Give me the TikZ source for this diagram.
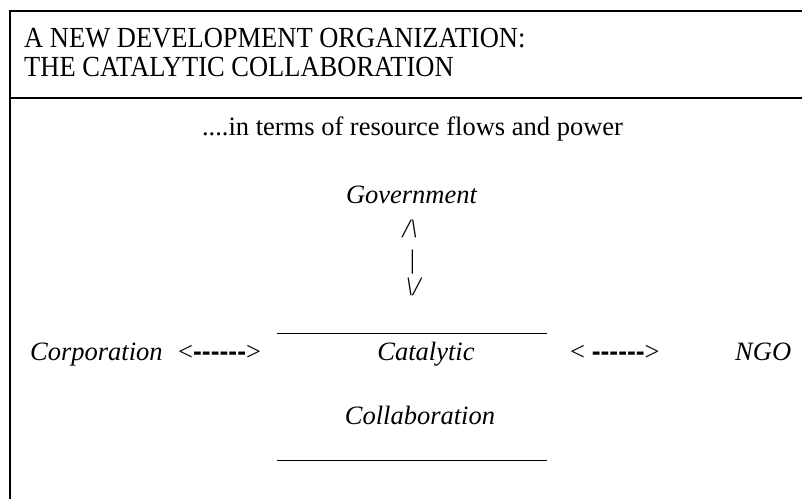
\documentclass[tikz,border=0pt]{standalone}
\usepackage{fontspec}
\setmainfont{Liberation Serif}
\newfontfamily\dashfont{Liberation Sans}
\begin{document}
\begin{tikzpicture}[x=1pt,y=-1pt,
  txt/.style={inner sep=0pt, anchor=base, font=\fontsize{26.5}{30}\selectfont},
  itxt/.style={txt, font=\fontsize{26.5}{30}\selectfont\itshape},
  head/.style={txt, anchor=base west},
  frame/.style={line width=2pt},
  rule/.style={line width=1pt},
  flow/.style={txt, anchor=base west}]
\useasboundingbox (0,0) rectangle (802,499);
% outer frame: header band and left edge
\draw[frame] (802,11) -- (10,11) -- (10,499);
\draw[frame] (10,98) -- (802,98);
% heading
\node[head] (title1) at (24,47) {\scalebox{1}[1.1]{A NEW DEVELOPMENT ORGANIZATION:}};
\node[head] (title2) at (24,76) {\scalebox{1}[1.1]{THE CATALYTIC COLLABORATION}};
\node[txt] (sub) at (412.5,135) {....in terms of resource flows and power};
% government and its two-way link
\node[itxt] (gov) at (411.5,203) {Government};
\node[itxt] (up) at (410,237) {/\textbackslash};
\node[itxt] (bar) at (412,268) {|};
\node[itxt] (down) at (413,295) {\textbackslash/};
% the collaboration block
\coordinate (topL) at (277,333);
\coordinate (topR) at (547,333);
\coordinate (botL) at (277,460);
\coordinate (botR) at (547,460);
\draw[rule] (topL) -- (topR);
\draw[rule] (botL) -- (botR);
\node[itxt] (cat) at (426,360) {Catalytic};
\node[itxt] (coll) at (420,424) {Collaboration};
% partners on either side
\node[itxt, anchor=base west] (corp) at (30,360) {Corporation};
\node[flow] (linkL) at (178,360) {<{\dashfont\bfseries ------}>};
\node[flow] (linkR) at (570,360) {< {\dashfont\bfseries ------}>};
\node[itxt, anchor=base west] (ngo) at (735,360) {NGO};
\end{tikzpicture}
\end{document}
